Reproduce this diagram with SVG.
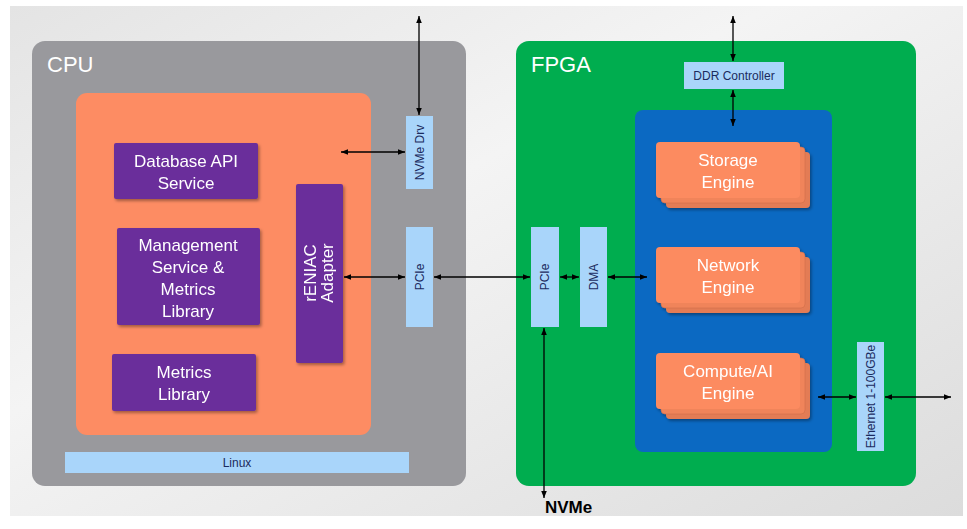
<svg xmlns="http://www.w3.org/2000/svg" width="967" height="529" viewBox="0 0 967 529">
  <defs>
    <linearGradient id="bg" x1="0" y1="0" x2="1" y2="1">
      <stop offset="0" stop-color="#e4e4e4"/>
      <stop offset="0.4" stop-color="#f4f4f4"/>
      <stop offset="1" stop-color="#dcdcdc"/>
    </linearGradient>
    <filter id="shadow" x="-10%" y="-10%" width="130%" height="140%">
      <feDropShadow dx="1.5" dy="2" stdDeviation="1.5" flood-color="#000" flood-opacity="0.35"/>
    </filter>
    <marker id="ah" viewBox="0 0 10 10" refX="10" refY="5" markerWidth="7" markerHeight="7" orient="auto-start-reverse" markerUnits="userSpaceOnUse">
      <path d="M0,1 L10,5 L0,9 Z" fill="#000"/>
    </marker>
    <g id="card">
      <rect x="10" y="10" width="144" height="56" rx="4" fill="#e37c55"/>
      <rect x="5" y="5" width="144" height="56" rx="4" fill="#f0845a" stroke="#c96a47" stroke-width="0.5"/>
      <rect x="0" y="0" width="144" height="56" rx="4" fill="#fc8b61"/>
    </g>
  </defs>
  <style>
    .lbl { font-family: "Liberation Sans", Arial, sans-serif; }
    .title { font-size: 22px; fill: #ffffff; }
    .wt { font-size: 17px; fill: #ffffff; text-anchor: middle; }
    .sm { font-size: 12px; fill: #1b2b5e; text-anchor: middle; }
    .purple { fill: #6a2d9b; }
    .lb { fill: #a9d5fa; }
    .conn line { stroke: #000; stroke-width: 1.3; marker-start: url(#ah); marker-end: url(#ah); }
  </style>

  <rect x="0" y="0" width="967" height="529" fill="#ffffff"/>
  <rect x="10" y="6" width="953" height="510" fill="url(#bg)"/>

  <!-- CPU side -->
  <g id="cpu">
    <rect x="32" y="41" width="434" height="445" rx="13" fill="#99999d"/>
    <text class="lbl title" x="47" y="72">CPU</text>
  </g>
  <g id="host-sw">
    <rect x="76" y="93" width="295" height="342" rx="11" fill="#fd8c63"/>
  </g>
  <g id="db-api" filter="url(#shadow)">
    <rect class="purple" x="114" y="143" width="144" height="56" rx="2"/>
    <text class="lbl wt" x="186" y="167">Database API</text>
    <text class="lbl wt" x="186" y="189">Service</text>
  </g>
  <g id="mgmt" filter="url(#shadow)">
    <rect class="purple" x="117" y="228" width="143" height="97" rx="2"/>
    <text class="lbl wt" x="188" y="251">Management</text>
    <text class="lbl wt" x="188" y="273">Service &amp;</text>
    <text class="lbl wt" x="188" y="295">Metrics</text>
    <text class="lbl wt" x="188" y="317">Library</text>
  </g>
  <g id="metrics" filter="url(#shadow)">
    <rect class="purple" x="112" y="354" width="144" height="57" rx="2"/>
    <text class="lbl wt" x="184" y="378">Metrics</text>
    <text class="lbl wt" x="184" y="400">Library</text>
  </g>
  <g id="adapter" filter="url(#shadow)">
    <rect class="purple" x="296" y="184" width="47" height="179" rx="2"/>
    <text class="lbl wt" transform="translate(319,273) rotate(-90)" x="0" y="-3">rENIAC</text>
    <text class="lbl wt" transform="translate(319,273) rotate(-90)" x="0" y="14">Adapter</text>
  </g>
  <g id="nvme-drv">
    <rect class="lb" x="406" y="116" width="27" height="73"/>
    <text class="lbl sm" transform="translate(423.5,152.5) rotate(-90)">NVMe Drv</text>
  </g>
  <g id="cpu-pcie">
    <rect class="lb" x="406" y="227" width="27" height="100"/>
    <text class="lbl sm" transform="translate(423.5,277) rotate(-90)">PCIe</text>
  </g>
  <g id="linux">
    <rect class="lb" x="65" y="452" width="344" height="21"/>
    <text class="lbl sm" x="237" y="467">Linux</text>
  </g>

  <!-- FPGA side -->
  <g id="fpga">
    <rect x="516" y="41" width="400" height="445" rx="13" fill="#00ad4f"/>
    <text class="lbl title" x="531" y="72">FPGA</text>
  </g>
  <g id="ddr">
    <rect class="lb" x="684" y="62" width="100" height="27"/>
    <text class="lbl sm" x="734" y="80">DDR Controller</text>
  </g>
  <g id="engines">
    <rect x="635" y="110" width="197" height="342" rx="8" fill="#0b69c2"/>
  </g>
  <g id="storage-engine" filter="url(#shadow)">
    <use href="#card" x="656" y="142"/>
    <text class="lbl wt" x="728" y="166">Storage</text>
    <text class="lbl wt" x="728" y="188">Engine</text>
  </g>
  <g id="network-engine" filter="url(#shadow)">
    <use href="#card" x="656" y="247"/>
    <text class="lbl wt" x="728" y="271">Network</text>
    <text class="lbl wt" x="728" y="293">Engine</text>
  </g>
  <g id="compute-engine" filter="url(#shadow)">
    <use href="#card" x="656" y="353"/>
    <text class="lbl wt" x="728" y="377">Compute/AI</text>
    <text class="lbl wt" x="728" y="399">Engine</text>
  </g>
  <g id="fpga-pcie">
    <rect class="lb" x="531" y="227" width="28" height="100"/>
    <text class="lbl sm" transform="translate(549,277) rotate(-90)">PCIe</text>
  </g>
  <g id="dma">
    <rect class="lb" x="580" y="227" width="27" height="100"/>
    <text class="lbl sm" transform="translate(597.5,277) rotate(-90)">DMA</text>
  </g>
  <g id="ethernet">
    <rect class="lb" x="857" y="342" width="27" height="109"/>
    <text class="lbl sm" transform="translate(874.5,396.5) rotate(-90)">Ethernet 1-100GBe</text>
  </g>
  <g id="nvme">
    <text class="lbl" x="545" y="513" font-size="17" font-weight="bold" fill="#000">NVMe</text>
  </g>

  <!-- connectors -->
  <g id="connectors" class="conn">
    <line x1="419" y1="16" x2="419" y2="115"/>
    <line x1="341" y1="152" x2="405" y2="152"/>
    <line x1="344" y1="277" x2="405" y2="277"/>
    <line x1="434" y1="277" x2="530" y2="277"/>
    <line x1="560" y1="277" x2="579" y2="277"/>
    <line x1="608" y1="277" x2="647" y2="277"/>
    <line x1="733" y1="16" x2="733" y2="61"/>
    <line x1="733" y1="90" x2="733" y2="126"/>
    <line x1="544" y1="328" x2="544" y2="498"/>
    <line x1="818" y1="397" x2="856" y2="397"/>
    <line x1="885" y1="397" x2="951" y2="397"/>
  </g>
</svg>
